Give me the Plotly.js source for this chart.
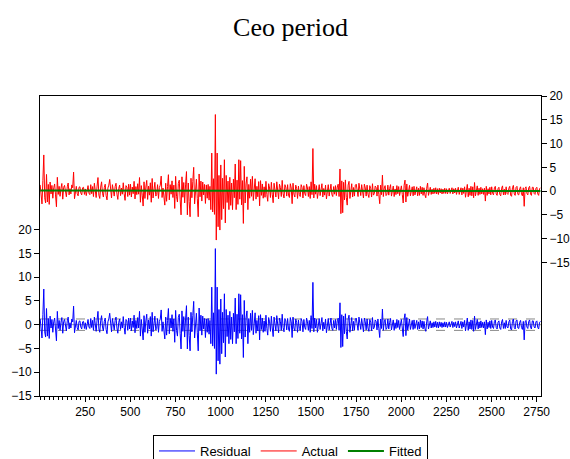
<!DOCTYPE html>
<html>
<head>
<meta charset="utf-8">
<script src="https://cdn.plot.ly/plotly-3.0.1.min.js"></script>
<style>html,body{margin:0;padding:0;background:#fff;}#chart{width:570px;height:459px;}</style>
</head>
<body>
<div id="chart"></div>
<script>
// Observation index: first observation and sampling step of the values below
const obsStart = 1;
const obsStep = 5;

const residual = [
  // obs 1-246
  1.2, -0.8, -2.8, 2.1, 7.5, -1.5, -2.6, 3.4, -2.4, 1.3,
  -2.9, 1.8, -0.7, 1.1, -1.6, 0.6, 1.4, -0.9, -3.4, 2.8,
  -0.8, 0.9, -1.2, 0.5, 1.5, -1.8, 0.7, 1.1, -0.6, -1.3,
  0.8, 1.6, -0.9, 0.4, -0.7, 1.2, 0.6, 3.9, -1.7, 0.5,
  0.9, -0.6, -1.1, 0.7, 0.8, -0.5, -0.9, 0.6, 0.7, -0.8,
  // obs 251-496
  0.4, -1.0, 0.8, 1.1, -0.5, -0.8, 1.3, -0.6, 0.9, -1.2,
  1.6, -0.7, -1.4, 1.0, 2.8, -0.9, -1.6, 0.8, 1.9, -0.5,
  -1.3, 0.7, 1.4, -1.0, -1.9, 0.6, 1.2, 2.4, -0.8, -1.5,
  1.3, -0.4, -1.1, 0.9, 1.6, -0.7, -1.8, 0.5, 1.2, -1.0,
  0.6, -0.7, 1.7, -0.6, -2.0, 1.1, 0.8, -1.2, 1.4, -0.9,
  // obs 501-746
  1.4, -1.3, 0.8, -0.6, 2.0, -1.7, 0.9, -0.8, 1.5, -0.7,
  2.8, -2.4, 1.1, -0.9, -3.2, 1.9, -1.6, 0.8, 2.2, -1.8,
  1.0, -0.9, 1.7, -2.4, 2.6, -1.5, 0.9, 1.8, -1.1, -0.8,
  1.3, -1.6, 0.7, 1.2, 3.1, -1.4, 0.6, -1.2, -3.0, 1.6,
  -2.2, 0.9, 3.4, -1.9, 1.3, -0.7, 2.1, -1.4, 1.2, -3.7,
  // obs 751-996
  3.0, -1.2, -2.4, 1.5, 2.2, -1.8, -5.1, 2.9, -1.4, 1.7,
  -2.6, 1.2, 4.0, -5.1, 1.6, -2.3, -5.5, 2.6, -1.5, 1.9,
  4.9, -2.8, 1.1, 2.4, -1.7, -5.5, 3.5, -1.3, 2.0, -2.2,
  1.8, -0.9, 1.3, -2.7, 1.2, -1.6, 1.3, -2.0, 0.9, -4.0,
  7.9, -4.5, 2.5, -5.0, 16.0, -10.4, 7.9, -7.6, 3.2, -8.3,
  // obs 1001-1246
  5.4, -6.1, 2.6, -3.8, 6.5, -6.8, 3.2, -2.5, 2.0, -4.0,
  2.8, -3.1, 1.6, -4.0, 2.4, -1.5, 5.6, -4.0, 2.2, -2.9,
  6.5, -1.8, 6.3, -3.0, 2.1, -6.9, 5.1, -2.6, 1.4, 2.9,
  -4.0, 1.3, -1.6, 2.4, -1.2, 3.0, -2.1, 1.1, 2.5, -1.8,
  0.9, -1.3, 1.9, -3.2, 2.1, -1.0, 1.4, -1.6, 0.8, -1.4,
  // obs 1251-1496
  2.0, -0.8, -2.2, 1.5, 0.6, -1.4, 1.8, -0.7, -2.5, 1.6,
  0.5, -1.3, 1.9, -0.9, -1.7, 1.4, 0.7, -1.2, 2.2, -0.6,
  -1.5, 1.3, 0.8, -1.1, 1.3, -0.9, -1.4, 1.5, 0.6, -2.7,
  1.6, -0.7, -1.3, 1.2, 0.5, -1.6, 1.0, -0.8, -1.2, 1.3,
  0.7, -1.5, 1.1, -0.6, -1.0, 1.4, 0.6, -1.2, 0.9, -1.6,
  // obs 1501-1746
  1.9, -0.8, 8.9, -1.5, 1.4, -0.7, 1.1, -1.6, 0.6, 1.3,
  -1.0, 0.8, 1.5, -1.3, 0.5, -0.9, 1.2, -1.7, 0.7, 1.3,
  -1.1, 0.6, 1.4, -0.8, -1.2, 0.9, -0.7, 1.1, -1.0, 0.8,
  1.4, -1.2, 4.6, -4.8, 2.1, -4.6, 1.8, -1.9, 2.3, -1.4,
  -3.0, 1.2, 2.0, -1.6, 0.9, 1.5, -1.3, 0.7, -1.1, 1.2,
  // obs 1751-1996
  1.4, -0.6, -1.2, 1.6, 0.5, -1.0, 1.3, -0.8, -1.5, 1.4,
  0.6, -1.1, 1.2, -0.7, -1.4, 1.1, 0.5, -1.3, 1.5, -0.9,
  -0.6, 1.0, 0.7, -1.1, 1.2, -0.8, -2.7, 1.2, -0.8, 3.3,
  -1.2, 0.6, 1.1, -1.0, -0.7, 1.2, -0.9, 0.5, 1.3, -1.1,
  0.7, 1.0, -1.2, 0.4, -0.8, 1.1, -0.6, 0.9, -1.0, 0.6,
  // obs 2001-2246
  1.1, -0.7, -2.5, 1.2, 2.3, -2.3, 1.5, -1.1, 0.6, 1.2,
  -1.0, 0.5, 0.9, -1.0, 1.0, -0.8, 0.4, 0.9, -1.0, 0.6,
  -0.9, 1.0, -0.6, 0.8, -0.9, 0.7, -0.8, -1.4, 0.6, 1.7,
  -0.9, 0.5, 0.8, -0.7, 0.4, -0.6, 0.6, -0.5, 0.7, -0.6,
  0.5, -0.7, 0.6, -0.4, 0.5, -0.6, 0.4, -0.5, 0.6, -0.5,
  // obs 2251-2496
  0.5, -0.6, 0.4, 0.6, -0.5, 0.3, 0.7, -0.6, 0.5, -0.4,
  0.6, -0.7, 0.5, 0.8, -0.7, 0.4, 0.7, -0.8, 0.6, -0.5,
  0.9, -1.3, 0.7, 1.4, -1.2, 0.6, -0.9, 1.0, -1.0, 0.9,
  -1.4, 1.8, -1.0, 0.5, 1.1, -0.9, 0.6, -0.7, 0.8, -0.6,
  0.5, -0.7, 0.6, -2.1, 1.0, -0.9, 0.5, -0.6, 0.8, -0.8,
  // obs 2501-2746
  0.9, -0.5, -0.8, 0.7, 1.0, -0.6, -0.9, 0.5, 0.8, -0.7,
  -1.0, 0.6, 1.1, -0.8, 0.4, -0.8, 0.9, -0.5, -0.7, 0.6,
  1.0, -0.9, -1.1, 0.7, 1.2, -0.6, -0.9, 0.8, 1.0, -0.7,
  -0.8, 0.5, 0.9, -0.6, -1.0, 0.7, -3.2, 0.6, 0.9, -0.5,
  -0.8, 0.7, 1.0, -0.6, -0.9, 0.8, 0.8, -0.5, -0.7, 0.6,
  // obs 2751-2771
  0.8, -0.6, -0.9, 0.5, 0.7
];

// Fitted values, one per block of 250 observations (nearly flat around zero)
const fittedBlockSize = 250;
const fittedBlocks = [0.10, 0.05, 0.05, 0.10, 0.10, 0.05, 0.05, 0.05, 0.00, 0.00, 0.00, 0.00];

// Standard error of the regression (dashed band in the residual panel)
const seResid = 1.2;

// Axis ticks
const xTickVals = [250, 500, 750, 1000, 1250, 1500, 1750, 2000, 2250, 2500, 2750];
const yTickVals = [-15, -10, -5, 0, 5, 10, 15, 20];

// Derived series
const obs = residual.map((_, i) => obsStart + i * obsStep);
const fitted = obs.map(o => fittedBlocks[Math.min(fittedBlocks.length - 1, Math.floor((o - 1) / fittedBlockSize))]);
const actual = residual.map((r, i) => r + fitted[i]);

const fontFam = '"Liberation Sans", Arial, sans-serif';

const traces = [
  {x: obs, y: residual, type: 'scatter', mode: 'lines', name: 'Residual',
   line: {color: '#0000FF', width: 1}, yaxis: 'y'},
  {x: obs, y: actual, type: 'scatter', mode: 'lines', name: 'Actual',
   line: {color: '#FF0000', width: 1}, yaxis: 'y2'},
  {x: obs, y: fitted, type: 'scatter', mode: 'lines', name: 'Fitted',
   line: {color: '#008000', width: 2}, yaxis: 'y2'}
];

const layout = {
  width: 570, height: 459,
  margin: {l: 40, r: 29, t: 96, b: 63, autoexpand: false},
  paper_bgcolor: '#fff', plot_bgcolor: '#fff',
  font: {family: fontFam, size: 12, color: '#000'},
  title: {text: 'Ceo period', x: 0.5, xref: 'paper', xanchor: 'center',
          y: 1 - 27 / 459, yref: 'container', yanchor: 'middle',
          font: {family: '"Liberation Serif", "Times New Roman", serif', size: 26, color: '#000'}},
  showlegend: true,
  legend: {orientation: 'h', x: 0.5, xanchor: 'center', y: -0.13, yanchor: 'top',
           bordercolor: '#000', borderwidth: 1, bgcolor: '#fff',
           font: {family: fontFam, size: 13, color: '#000'},
           itemwidth: 36, tracegroupgap: 0},
  xaxis: {range: [0, 2774], showgrid: false, zeroline: false,
          showline: true, linecolor: '#000', linewidth: 1, mirror: true,
          ticks: 'outside', ticklen: 5, tickcolor: '#000', tickwidth: 1,
          tickmode: 'array', tickvals: xTickVals,
          minor: {dtick: 25, tick0: 0, ticks: 'outside', ticklen: 3, tickcolor: '#000', showgrid: false},
          tickfont: {family: fontFam, size: 12, color: '#000'}},
  yaxis: {range: [-15, 48.1], showgrid: false, zeroline: false,
          showline: true, linecolor: '#000', linewidth: 1,
          ticks: 'outside', ticklen: 5, tickcolor: '#000',
          tickmode: 'array', tickvals: yTickVals,
          tickfont: {family: fontFam, size: 12, color: '#000'}},
  yaxis2: {range: [-43.1, 20], overlaying: 'y', side: 'right', showgrid: false, zeroline: false,
           showline: true, linecolor: '#000', linewidth: 1,
           ticks: 'outside', ticklen: 5, tickcolor: '#000',
           tickmode: 'array', tickvals: yTickVals,
           tickfont: {family: fontFam, size: 12, color: '#000'}},
  shapes: [
    {type: 'line', xref: 'paper', x0: 0, x1: 1, yref: 'y', y0: 0, y1: 0,
     line: {color: '#999', width: 1}, layer: 'below'},
    {type: 'line', xref: 'paper', x0: 0, x1: 1, yref: 'y', y0: seResid, y1: seResid,
     line: {color: '#888', width: 1, dash: 'dash'}, layer: 'below'},
    {type: 'line', xref: 'paper', x0: 0, x1: 1, yref: 'y', y0: -seResid, y1: -seResid,
     line: {color: '#888', width: 1, dash: 'dash'}, layer: 'below'}
  ]
};

Plotly.newPlot('chart', traces, layout, {displayModeBar: false, staticPlot: true});
</script>
</body>
</html>
